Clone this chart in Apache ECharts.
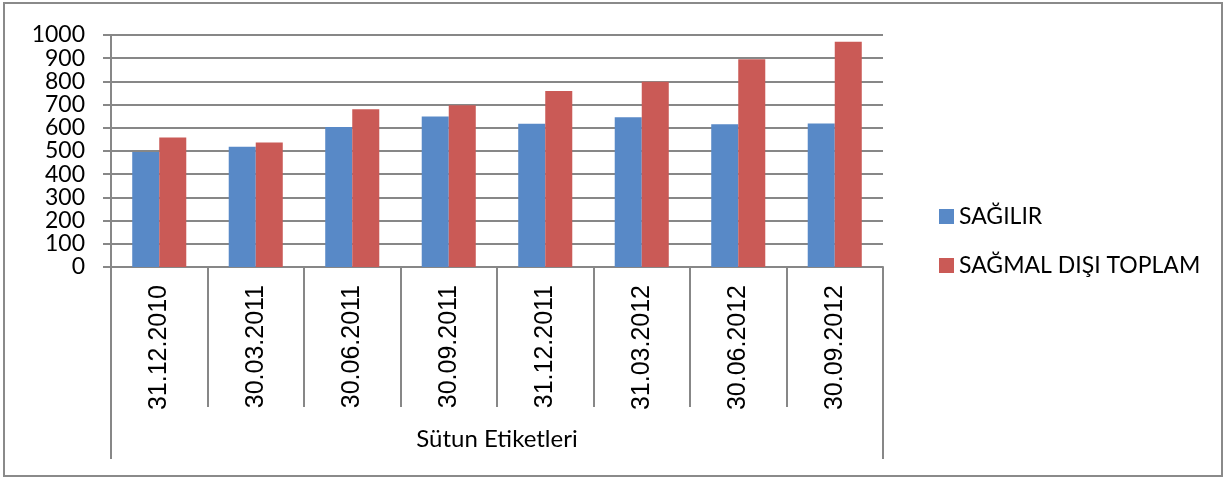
<!DOCTYPE html>
<html>
<head>
<meta charset="utf-8">
<script src="https://cdn.jsdelivr.net/npm/echarts@6/dist/echarts.min.js"></script>
<style>
html,body{margin:0;padding:0;background:#fff;}
#frame{position:absolute;left:3px;top:2px;width:1216px;height:471px;border:2px solid #8a8a8a;}
#chart{position:absolute;left:0;top:0;width:1228px;height:481px;}
</style>
</head>
<body>
<div id="frame"></div>
<div id="chart"></div>
<script>
const categories = ['31.12.2010','30.03.2011','30.06.2011','30.09.2011','31.12.2011','31.03.2012','30.06.2012','30.09.2012'];
const seriesNames = ['SAĞILIR','SAĞMAL DIŞI TOPLAM'];
const sagilir = [496, 518, 603, 649, 617, 645, 615, 619];
const sagmalDisi = [558, 537, 680, 697, 759, 798, 895, 971];
const groupLabel = ['Sütun Etiketleri'];
const yMin = 0, yMax = 1000, yStep = 100;

const chart = echarts.init(document.getElementById('chart'), null, {renderer:'canvas'});
const gray = '#878787';
chart.setOption({
  animation:false,
  backgroundColor:'transparent',
  grid:{left:111,right:345,top:35,bottom:214},
  legend:{
    orient:'vertical', left:934, top:200, itemWidth:15, itemHeight:15, itemGap:26,
    icon:'rect',
    textStyle:{fontFamily:'Lato', fontSize:23, color:'#000'},
    data:seriesNames
  },
  xAxis:[{
    type:'category', data:categories, position:'bottom',
    axisLine:{show:true, lineStyle:{color:gray, width:2}},
    axisTick:{show:true, interval:0, length:140, lineStyle:{color:gray, width:2}},
    axisLabel:{interval:0, rotate:90, margin:18, fontFamily:'Liberation Sans', fontSize:25, color:'#000'},
    splitLine:{show:false}
  },{
    type:'category', data:groupLabel, position:'bottom',
    axisLine:{show:false},
    axisTick:{show:true, length:192, lineStyle:{color:gray, width:2}},
    axisLabel:{margin:160, fontFamily:'Lato', fontSize:24, color:'#000'},
    splitLine:{show:false}
  }],
  yAxis:{
    type:'value', min:yMin, max:yMax, interval:yStep,
    axisLine:{show:true, lineStyle:{color:gray, width:2}},
    axisTick:{show:true, length:8, lineStyle:{color:gray, width:2}},
    axisLabel:{margin:26, fontFamily:'Lato', fontSize:23, color:'#000', formatter:function(v){return String(v);}},
    splitLine:{show:true, lineStyle:{color:gray, width:2}}
  },
  series:[{
    name:seriesNames[0], type:'bar', data:sagilir, xAxisIndex:0,
    barGap:'0%', barCategoryGap:'44%',
    itemStyle:{color:'#5889C7'}
  },{
    name:seriesNames[1], type:'bar', data:sagmalDisi, xAxisIndex:0,
    barGap:'0%', barCategoryGap:'44%',
    itemStyle:{color:'#CA5A56'}
  }]
});
</script>
</body>
</html>
